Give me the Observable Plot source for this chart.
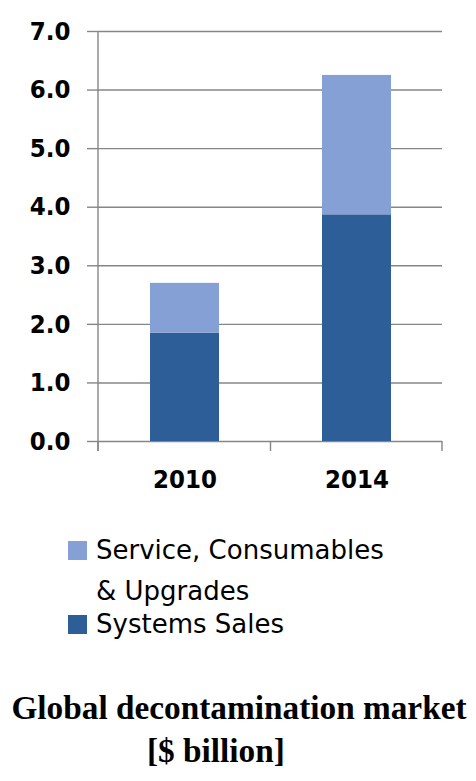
<!DOCTYPE html>
<html>
<head>
<meta charset="utf-8">
<script src="https://cdn.jsdelivr.net/npm/d3@7"></script>
<script src="https://cdn.jsdelivr.net/npm/@observablehq/plot@0.6"></script>
<style>
  html, body { margin: 0; padding: 0; background: #fff; }
  #wrap { position: relative; width: 476px; height: 781px; overflow: hidden; }
  .leg { position: absolute; left: 96px; font-family: "DejaVu Sans", sans-serif; font-size: 26px; line-height: 41px; color: #000; white-space: nowrap; }
  .sw { position: absolute; left: 68px; width: 19px; height: 19px; }
  .title { position: absolute; font-family: "Liberation Serif", "Times New Roman", serif; font-weight: bold; font-size: 33.3px; color: #000; white-space: nowrap; }
</style>
</head>
<body>
<div id="wrap"></div>
<script>
const years = ["2010", "2014"];
const seriesNames = ["Systems Sales", "Service, Consumables & Upgrades"];
const systemsSales = [1.85, 3.87];
const serviceConsumables = [0.85, 2.38];
const seriesColors = ["#2E5E98", "#84A0D4"];
const yTicks = [0, 1, 2, 3, 4, 5, 6, 7];

const data = [];
years.forEach((yr, i) => {
  data.push({year: yr, series: seriesNames[0], value: systemsSales[i]});
  data.push({year: yr, series: seriesNames[1], value: serviceConsumables[i]});
});

const gray = "#868686";
const fontFam = '"DejaVu Sans Condensed", "DejaVu Sans", sans-serif';

const plot = Plot.plot({
  width: 476,
  height: 500,
  marginLeft: 98,
  marginRight: 34,
  marginTop: 31,
  marginBottom: 59,
  style: {fontFamily: fontFam, color: "#000", background: "#fff", fontStretch: "condensed"},
  x: {domain: years, paddingInner: 0.6, paddingOuter: 0.3, axis: null, label: null},
  y: {domain: [0, 7], axis: null, label: null},
  color: {domain: seriesNames, range: seriesColors},
  marks: [
    Plot.gridY(yTicks, {stroke: gray, strokeOpacity: 1, strokeWidth: 1.4}),
    Plot.axisY(yTicks, {
      tickSize: 11, tickPadding: 17, stroke: gray, strokeOpacity: 1, strokeWidth: 1.4,
      tickFormat: d => d.toFixed(1), fontSize: 25.5, fontWeight: "bold", fill: "#000", label: null
    }),
    Plot.barY(data, {x: "year", y: "value", fill: "series", order: seriesNames}),
    Plot.axisX({tickSize: 0, tickPadding: 28, fontSize: 25.5, fontWeight: "bold", fill: "#000", label: null})
  ]
});

// y-axis line and x-axis category boundary ticks, derived from the plot's scales
const xs = plot.scale("x");
const ys = plot.scale("y");
const y0 = ys.apply(0);
const yTop = ys.apply(7);
const left = xs.range[0], right = xs.range[1];
const boundaries = [left];
years.forEach((yr, i) => {
  if (i < years.length - 1) boundaries.push(xs.apply(yr) + xs.bandwidth + (xs.step - xs.bandwidth) / 2);
});
boundaries.push(right);
const svg = d3.select(plot);
svg.append("line").attr("x1", left).attr("x2", left).attr("y1", yTop).attr("y2", y0 + 10)
  .attr("stroke", gray).attr("stroke-width", 1.4);
boundaries.forEach(b => {
  svg.append("line").attr("x1", b).attr("x2", b).attr("y1", y0).attr("y2", y0 + 10)
    .attr("stroke", gray).attr("stroke-width", 1.4);
});

const wrap = document.getElementById("wrap");
plot.style.position = "absolute";
plot.style.left = "0px";
plot.style.top = "0px";
wrap.appendChild(plot);

// legend (top series first)
const legendItems = [
  {name: seriesNames[1], lines: ["Service, Consumables", "&amp; Upgrades"], color: seriesColors[1], top: 529.5, swTop: 541},
  {name: seriesNames[0], lines: ["Systems Sales"], color: seriesColors[0], top: 603.5, swTop: 615}
];
legendItems.forEach(it => {
  const sw = document.createElement("div");
  sw.className = "sw";
  sw.style.top = it.swTop + "px";
  sw.style.background = it.color;
  wrap.appendChild(sw);
  const t = document.createElement("div");
  t.className = "leg";
  t.style.top = it.top + "px";
  t.innerHTML = it.lines.join("<br>");
  wrap.appendChild(t);
});

// title
const t1 = document.createElement("div");
t1.className = "title";
t1.textContent = "Global decontamination market";
t1.style.left = "0px";
t1.style.width = "478px";
t1.style.textAlign = "center";
t1.style.top = "688px";
t1.style.lineHeight = "40px";
wrap.appendChild(t1);
const t2 = document.createElement("div");
t2.className = "title";
t2.textContent = "[$ billion]";
t2.style.left = "147px";
t2.style.top = "731px";
t2.style.lineHeight = "40px";
wrap.appendChild(t2);
</script>
</body>
</html>
